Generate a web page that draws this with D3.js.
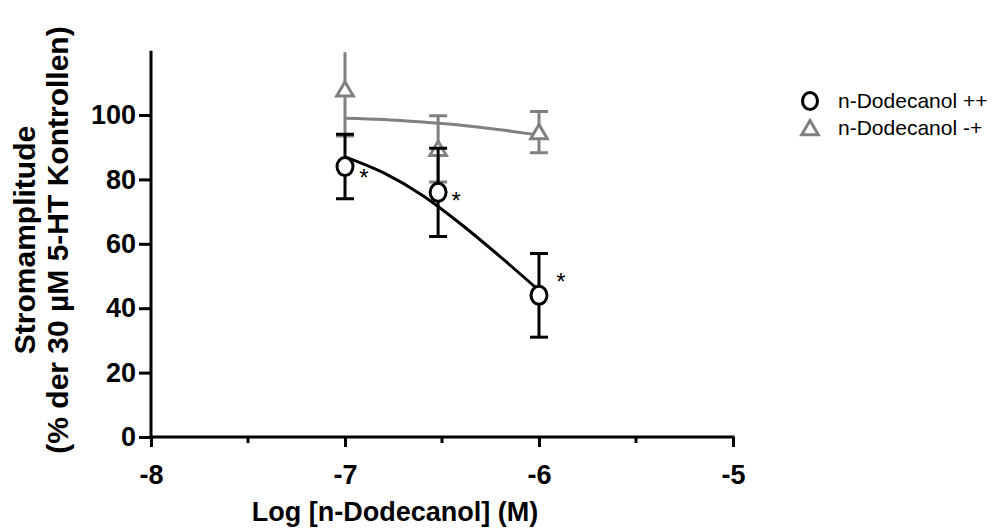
<!DOCTYPE html>
<html>
<head>
<meta charset="utf-8">
<script src="https://cdn.jsdelivr.net/npm/d3@7"></script>
<style>
  html, body { margin: 0; padding: 0; background: #fff; }
  svg { display: block; }
</style>
</head>
<body>
<svg id="chart" width="994" height="529"></svg>
<script>
// ---- data ----
const logConc = [-7, -6.52, -6];
const seriesNames = ["n-Dodecanol ++", "n-Dodecanol -+"];
const meanPP = [84, 76, 44];
const semPP = [10, 13.7, 13];
const meanMP = [108, 89.5, 94.7];
const semMP = [14.5, 10.3, 6.4];
const fitX = [-7, -6.8, -6.6, -6.4, -6.2, -6];
const fitPP = [87, 82, 75, 66, 56, 45.5];
const fitMP = [99, 98.6, 97.8, 96.8, 95.4, 93.7];
const starLabels = ["*", "*", "*"];
const xTicks = [-8, -7, -6, -5];
const xMinorTicks = [-7.5, -6.5, -5.5];
const yTicks = [0, 20, 40, 60, 80, 100];
const xTitle = "Log [n-Dodecanol] (M)";
const yTitle1 = "Stromamplitude";
const yTitle2 = "(% der 30 µM 5-HT Kontrollen)";

// ---- layout ----
const svg = d3.select("#chart");
const x = d3.scaleLinear().domain([-8, -5]).range([151, 733]);
const y = d3.scaleLinear().domain([0, 120]).range([437, 50.6]);
const yTop = y(119.5);
const BLACK = "#000";
const GREY = "#808080";
const font = "'Liberation Sans', Arial, Helvetica, sans-serif";

svg.append("defs").append("clipPath").attr("id", "plotclip")
  .append("rect").attr("x", 140).attr("y", yTop).attr("width", 620).attr("height", 437 - yTop + 20);

// axes
const yAxis = d3.axisLeft(y).tickValues(yTicks).tickSize(12).tickPadding(3).tickFormat(d3.format("d"));
const gy = svg.append("g").attr("transform", "translate(151,0)").call(yAxis);
gy.select(".domain").attr("d", `M0,${yTop}V437`);
const xAxis = d3.axisBottom(x).tickValues(xTicks).tickSize(10).tickPadding(18).tickFormat(d => d3.format("d")(d).replace("−", "-"));
const gx = svg.append("g").attr("transform", "translate(0,437)").call(xAxis);
gx.select(".domain").attr("d", `M151,0H733`);
gx.selectAll(".minor").data(xMinorTicks).enter().append("line")
  .attr("class", "minor").attr("x1", d => x(d)).attr("x2", d => x(d))
  .attr("y1", 0).attr("y2", 6).attr("stroke", BLACK).attr("stroke-width", 3);

[gx, gy].forEach(g => {
  g.selectAll(".domain").attr("stroke", BLACK).attr("stroke-width", 3).attr("stroke-linecap", "square");
  g.selectAll(".tick line").attr("stroke", BLACK).attr("stroke-width", 3);
  g.selectAll(".tick text").attr("fill", BLACK).style("font-family", font)
    .style("font-weight", "bold").style("font-size", "27px");
});

// titles
svg.append("text").attr("x", 395).attr("y", 521).attr("text-anchor", "middle")
  .style("font-family", font).style("font-weight", "bold").style("font-size", "27px")
  .text(xTitle);
const yt = svg.append("g").attr("transform", "translate(0,240) rotate(-90)");
yt.append("text").attr("x", 0).attr("y", 35).attr("text-anchor", "middle")
  .style("font-family", font).style("font-weight", "bold").style("font-size", "30px").text(yTitle1);
yt.append("text").attr("x", 0).attr("y", 68).attr("text-anchor", "middle")
  .style("font-family", font).style("font-weight", "bold").style("font-size", "30px").text(yTitle2);

// plot content
const plot = svg.append("g").attr("clip-path", "url(#plotclip)");
const line = d3.line().x((d, i) => x(fitX[i])).y(d => y(d)).curve(d3.curveMonotoneX);
const triPath = d3.symbol().type(d3.symbolTriangle).size(120);

function errorBars(g, means, sems, color) {
  const cap = 9;
  logConc.forEach((c, i) => {
    const cx = x(c), lo = y(means[i] - sems[i]), hi = y(means[i] + sems[i]);
    g.append("line").attr("x1", cx).attr("x2", cx).attr("y1", lo).attr("y2", hi)
      .attr("stroke", color).attr("stroke-width", 3);
    [lo, hi].forEach(v => {
      g.append("line").attr("x1", cx - cap).attr("x2", cx + cap).attr("y1", v).attr("y2", v)
        .attr("stroke", color).attr("stroke-width", 3);
    });
  });
}

// grey series
plot.append("path").datum(fitMP).attr("d", line).attr("fill", "none")
  .attr("stroke", GREY).attr("stroke-width", 3);
errorBars(plot, meanMP, semMP, GREY);
plot.selectAll(".tri").data(meanMP).enter().append("path")
  .attr("transform", (d, i) => `translate(${x(logConc[i])},${y(d) + 2})`)
  .attr("d", triPath).attr("fill", "#fff").attr("stroke", GREY).attr("stroke-width", 3);

// black series
plot.append("path").datum(fitPP).attr("d", line).attr("fill", "none")
  .attr("stroke", BLACK).attr("stroke-width", 3);
errorBars(plot, meanPP, semPP, BLACK);
plot.selectAll(".circ").data(meanPP).enter().append("ellipse")
  .attr("cx", (d, i) => x(logConc[i])).attr("cy", d => y(d))
  .attr("rx", 8).attr("ry", 9).attr("fill", "#fff").attr("stroke", BLACK).attr("stroke-width", 3);

// asterisks
const starDx = [19, 18, 22], starDy = [9, 7, -15];
svg.selectAll(".star").data(starLabels).enter().append("text")
  .attr("x", (d, i) => x(logConc[i]) + starDx[i])
  .attr("y", (d, i) => y(meanPP[i]) + starDy[i] + 10)
  .attr("text-anchor", "middle")
  .style("font-family", font).style("font-size", "24px").text(d => d);

// legend
const lg = svg.append("g");
lg.append("ellipse").attr("cx", 810).attr("cy", 101).attr("rx", 7.5).attr("ry", 8.5)
  .attr("fill", "#fff").attr("stroke", BLACK).attr("stroke-width", 3);
lg.append("path").attr("transform", "translate(810,130)").attr("d", triPath)
  .attr("fill", "#fff").attr("stroke", GREY).attr("stroke-width", 3);
lg.selectAll(".lt").data(seriesNames).enter().append("text")
  .attr("x", 838).attr("y", (d, i) => 108 + i * 27)
  .style("font-family", font).style("font-size", "21px").text(d => d);
</script>
</body>
</html>
